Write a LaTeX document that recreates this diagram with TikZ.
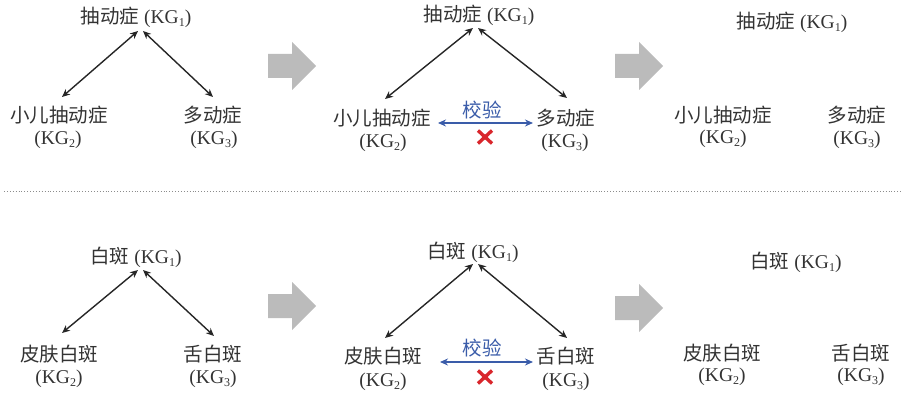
\documentclass[tikz,border=0pt]{standalone}
\usepackage{fontspec}
\setmainfont{Liberation Serif}
\newfontfamily\cjk{Noto Sans CJK SC}
\usetikzlibrary{arrows.meta,calc}
\definecolor{txt}{HTML}{333333}
\definecolor{chkblue}{HTML}{3A5CA9}
\definecolor{crossred}{HTML}{D9262C}
\definecolor{bigarrow}{HTML}{BBBBBB}
\newcommand\kgsub[1]{\raisebox{-0.35ex}{\fontsize{12}{12}\selectfont #1}}
\newcommand\kg[1]{(KG\kgsub{#1})}
\tikzset{
  lbl/.style={font=\fontsize{19.5}{24}\selectfont, text=txt, inner sep=0pt},
  rel/.style={{Stealth[length=8pt,width=7pt]}-{Stealth[length=8pt,width=7pt]}, line width=1.4pt, draw=black!85},
  chk/.style={{Stealth[length=8pt,width=7pt]}-{Stealth[length=8pt,width=7pt]}, line width=1.6pt, draw=chkblue},
  chklbl/.style={font=\cjk\fontsize{19.5}{24}\selectfont, text=chkblue, inner sep=0pt},
  cross/.style={draw=crossred, line width=3.4pt},
  flow/.style={fill=bigarrow, draw=none},
  sep/.style={draw=black!45, dotted, line width=0.9pt}
}
\begin{document}
\begin{tikzpicture}[x=1pt,y=-1pt]
\useasboundingbox (0,0) rectangle (901,395);
% ---------- top row ----------
% panel 1
\node[lbl] (a1) at (136,17) {{\cjk 抽动症} \kg1};
\node[lbl] (a2) at (59,115) {\cjk 小儿抽动症};
\node[lbl] (a2s) at (58,140) {\kg2};
\node[lbl] (a3) at (213,115) {\cjk 多动症};
\node[lbl] (a3s) at (214,140) {\kg3};
\coordinate (a1l) at (138,31);
\coordinate (a1r) at (143,31);
\coordinate (a2t) at (62,97);
\coordinate (a3t) at (213,97);
\draw[rel] (a1l) -- (a2t);
\draw[rel] (a1r) -- (a3t);
% flow arrow 1
\fill[flow] (268,54) -- (292,54) -- (292,42) -- (316,66) -- (292,90) -- (292,78) -- (268,78) -- cycle;
% panel 2
\node[lbl] (b1) at (479,15) {{\cjk 抽动症} \kg1};
\node[lbl] (b2) at (382,118) {\cjk 小儿抽动症};
\node[lbl] (b2s) at (383,143) {\kg2};
\node[lbl] (b3) at (566,118) {\cjk 多动症};
\node[lbl] (b3s) at (565,143) {\kg3};
\coordinate (b1l) at (473,28);
\coordinate (b1r) at (478,28);
\coordinate (b2t) at (385,99);
\coordinate (b3t) at (567,98);
\draw[rel] (b1l) -- (b2t);
\draw[rel] (b1r) -- (b3t);
\coordinate (b2e) at (438,123);
\coordinate (b3e) at (533,123);
\draw[chk] (b2e) -- (b3e);
\node[chklbl] (bchk) at (482,110) {校验};
\coordinate (bx) at (485,137);
\draw[cross] ($(bx)+(-7,-6.5)$) -- ($(bx)+(7,6.5)$);
\draw[cross] ($(bx)+(-7,6.5)$) -- ($(bx)+(7,-6.5)$);
% flow arrow 2
\fill[flow] (615,54) -- (639,54) -- (639,42) -- (663,66) -- (639,90) -- (639,78) -- (615,78) -- cycle;
% panel 3
\node[lbl] (c1) at (792,22) {{\cjk 抽动症} \kg1};
\node[lbl] (c2) at (723,115) {\cjk 小儿抽动症};
\node[lbl] (c2s) at (723,139) {\kg2};
\node[lbl] (c3) at (857,115) {\cjk 多动症};
\node[lbl] (c3s) at (857,140) {\kg3};
% ---------- separator ----------
\draw[sep] (4,191) -- (901,191);
% ---------- bottom row ----------
% panel 4
\node[lbl] (d1) at (136,257) {{\cjk 白斑} \kg1};
\node[lbl] (d2) at (59,354) {\cjk 皮肤白斑};
\node[lbl] (d2s) at (59,379) {\kg2};
\node[lbl] (d3) at (213,354) {\cjk 舌白斑};
\node[lbl] (d3s) at (213,379) {\kg3};
\coordinate (d1l) at (138,270);
\coordinate (d1r) at (143,270);
\coordinate (d2t) at (62,333);
\coordinate (d3t) at (214,336);
\draw[rel] (d1l) -- (d2t);
\draw[rel] (d1r) -- (d3t);
% flow arrow 3
\fill[flow] (268,294) -- (292,294) -- (292,282) -- (316,306) -- (292,330) -- (292,318) -- (268,318) -- cycle;
% panel 5
\node[lbl] (e1) at (473,252) {{\cjk 白斑} \kg1};
\node[lbl] (e2) at (383,356) {\cjk 皮肤白斑};
\node[lbl] (e2s) at (383,382) {\kg2};
\node[lbl] (e3) at (566,356) {\cjk 舌白斑};
\node[lbl] (e3s) at (566,382) {\kg3};
\coordinate (e1l) at (473,264);
\coordinate (e1r) at (478,264);
\coordinate (e2t) at (385,338);
\coordinate (e3t) at (567,338);
\draw[rel] (e1l) -- (e2t);
\draw[rel] (e1r) -- (e3t);
\coordinate (e2e) at (440,362);
\coordinate (e3e) at (533,362);
\draw[chk] (e2e) -- (e3e);
\node[chklbl] (echk) at (482,348) {校验};
\coordinate (ex) at (485,377);
\draw[cross] ($(ex)+(-7,-6.5)$) -- ($(ex)+(7,6.5)$);
\draw[cross] ($(ex)+(-7,6.5)$) -- ($(ex)+(7,-6.5)$);
% flow arrow 4
\fill[flow] (615,296) -- (639,296) -- (639,284) -- (663,308) -- (639,332) -- (639,320) -- (615,320) -- cycle;
% panel 6
\node[lbl] (f1) at (796,262) {{\cjk 白斑} \kg1};
\node[lbl] (f2) at (722,353) {\cjk 皮肤白斑};
\node[lbl] (f2s) at (722,377) {\kg2};
\node[lbl] (f3) at (861,353) {\cjk 舌白斑};
\node[lbl] (f3s) at (861,377) {\kg3};
\end{tikzpicture}
\end{document}
